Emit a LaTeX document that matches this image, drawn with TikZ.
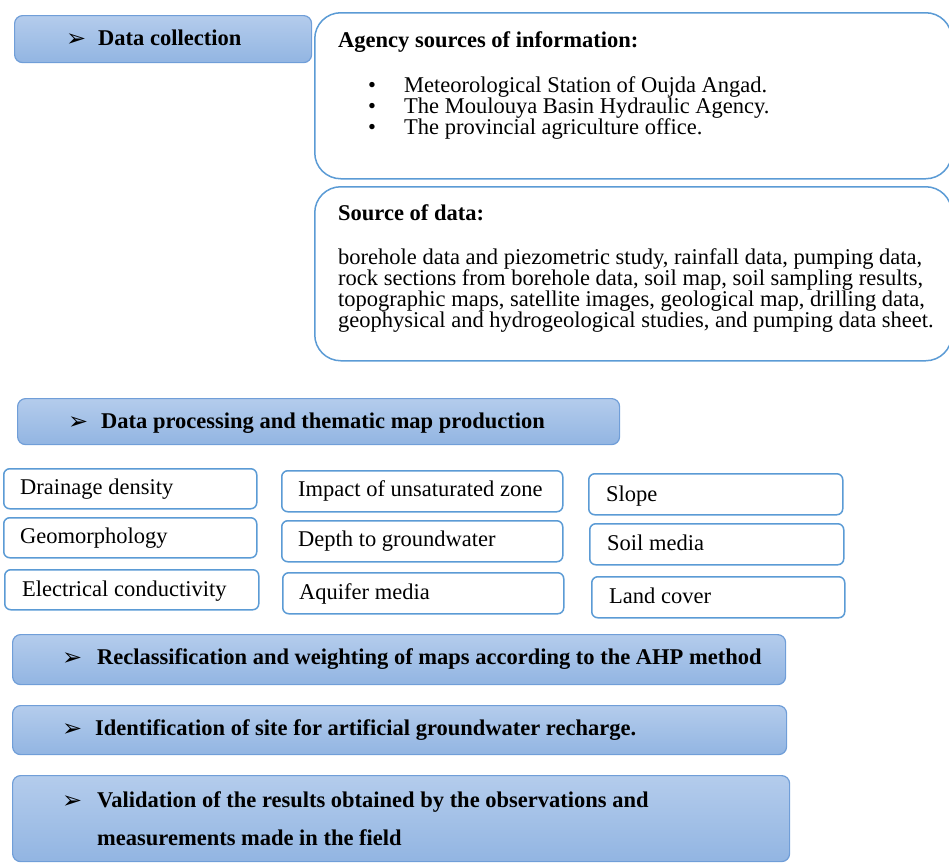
\documentclass[tikz,border=0pt]{standalone}
\usepackage{fontspec}
\setmainfont{Liberation Serif}
\newfontfamily\dingfont{DejaVu Sans}
\definecolor{hdrtop}{RGB}{180,204,236}
\definecolor{hdrbot}{RGB}{146,181,226}
\definecolor{hdrline}{RGB}{112,158,216}
\definecolor{boxline}{RGB}{91,155,213}
\newcommand{\arr}{{\dingfont\fontsize{24}{24}\selectfont ➢}}
\tikzset{
  hdr/.style={draw=hdrline, line width=1.2pt, rounded corners=8pt, top color=hdrtop, bottom color=hdrbot, anchor=north west, inner sep=0pt},
  infobox/.style={draw=boxline, line width=1.5pt, rounded corners=26pt, fill=white, anchor=north west, inner sep=0pt},
  smallbox/.style={draw=boxline, line width=1.5pt, rounded corners=6pt, fill=white, anchor=north west, inner sep=0pt},
  hdrtext/.style={anchor=base west, inner sep=0pt, font=\fontsize{22.5}{26}\selectfont\bfseries},
  bodytext/.style={anchor=base west, inner sep=0pt, font=\fontsize{22.5}{21}\selectfont},
  arrtext/.style={anchor=base west, inner sep=0pt},
}
\begin{document}
\begin{tikzpicture}[x=1pt,y=-1pt]
\useasboundingbox (0,0) rectangle (949,862);
% Data collection
\node[hdr, minimum width=297pt, minimum height=47pt] (dc) at (14,15) {};
\node[arrtext] (dca) at (66,46) {\arr};
\node[hdrtext] (dct) at (98,45) {Data collection};
% Agency box
\node[infobox, minimum width=637pt, minimum height=166pt] (ag) at (314,12) {};
\node[hdrtext] (agt) at (338,47) {Agency sources of information:};
\node[bodytext] (b1) at (368,92) {•};
\node[bodytext] (ag1) at (404,92) {Meteorological Station of Oujda Angad.};
\node[bodytext] (b2) at (368,113) {•};
\node[bodytext] (ag2) at (404,113) {The Moulouya Basin Hydraulic Agency.};
\node[bodytext] (b3) at (368,134) {•};
\node[bodytext] (ag3) at (404,134) {The provincial agriculture office.};
% Source box
\node[infobox, minimum width=637pt, minimum height=174pt] (src) at (314,186) {};
\node[hdrtext] (srct) at (338,220) {Source of data:};
\node[bodytext] (s1) at (338,264) {borehole data and piezometric study, rainfall data, pumping data,};
\node[bodytext] (s2) at (338,285) {rock sections from borehole data, soil map, soil sampling results,};
\node[bodytext] (s3) at (338,306) {topographic maps, satellite images, geological map, drilling data,};
\node[bodytext] (s4) at (338,327) {geophysical and hydrogeological studies, and pumping data sheet.};
% Data processing
\node[hdr, minimum width=602pt, minimum height=46pt] (dp) at (17,398) {};
\node[arrtext] (dpa) at (68,429) {\arr};
\node[hdrtext] (dpt) at (101,428) {Data processing and thematic map production};
% small boxes
\node[smallbox, minimum width=253pt, minimum height=40pt] (c11) at (3,468) {};
\node[bodytext] (t11) at (20,494) {Drainage density};
\node[smallbox, minimum width=253pt, minimum height=40pt] (c12) at (3,517) {};
\node[bodytext] (t12) at (20,543) {Geomorphology};
\node[smallbox, minimum width=254pt, minimum height=40pt] (c13) at (4,569) {};
\node[bodytext] (t13) at (22,596) {Electrical conductivity};
\node[smallbox, minimum width=281pt, minimum height=41pt] (c21) at (281,470) {};
\node[bodytext] (t21) at (298,496) {Impact of unsaturated zone};
\node[smallbox, minimum width=281pt, minimum height=41pt] (c22) at (281,520) {};
\node[bodytext] (t22) at (298,546) {Depth to groundwater};
\node[smallbox, minimum width=281pt, minimum height=41pt] (c23) at (282,572) {};
\node[bodytext] (t23) at (299,599) {Aquifer media};
\node[smallbox, minimum width=254pt, minimum height=41pt] (c31) at (588,473) {};
\node[bodytext] (t31) at (606,501) {Slope};
\node[smallbox, minimum width=254pt, minimum height=41pt] (c32) at (589,523) {};
\node[bodytext] (t32) at (607,550) {Soil media};
\node[smallbox, minimum width=253pt, minimum height=41pt] (c33) at (591,576) {};
\node[bodytext] (t33) at (609,603) {Land cover};
% Reclassification
\node[hdr, minimum width=773pt, minimum height=50pt] (rc) at (12,634) {};
\node[arrtext] (rca) at (62,665) {\arr};
\node[hdrtext] (rct) at (97,664) {Reclassification and weighting of maps according to the AHP method};
% Identification
\node[hdr, minimum width=774pt, minimum height=49pt] (id) at (12,705) {};
\node[arrtext] (ida) at (62,736) {\arr};
\node[hdrtext] (idt) at (95,735) {Identification of site for artificial groundwater recharge.};
% Validation
\node[hdr, minimum width=777pt, minimum height=86pt] (va) at (12,775) {};
\node[arrtext] (vaa) at (62,808) {\arr};
\node[hdrtext] (vat1) at (97,807) {Validation of the results obtained by the observations and};
\node[hdrtext] (vat2) at (97,845) {measurements made in the field};
\end{tikzpicture}
\end{document}
